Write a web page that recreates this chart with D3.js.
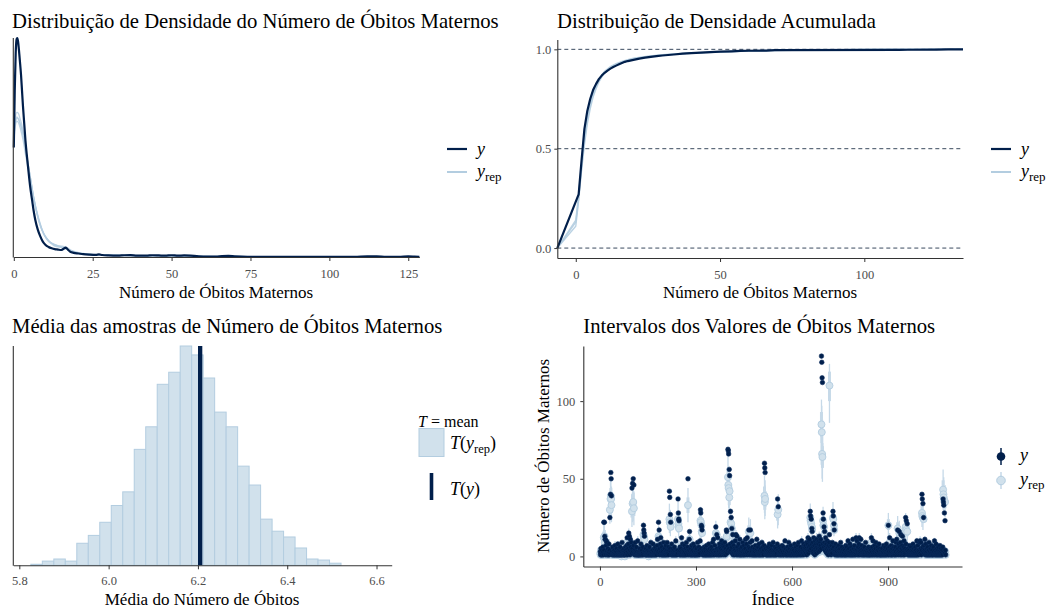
<!DOCTYPE html>
<html lang="pt">
<head>
<meta charset="utf-8">
<script src="https://cdn.jsdelivr.net/npm/d3@7"></script>
<style>
  body { margin: 0; background: #fff; }
  svg text { font-family: "Liberation Serif", "Times New Roman", serif; }
</style>
</head>
<body>
<svg id="chart" width="1053" height="612"></svg>
<script>
// ---------- Painel 1: densidade (altura relativa) de y e de réplicas y_rep ----------
const densObs = [[0,0.50],[0.3,0.76],[0.6,0.93],[0.9,0.995],[1.1,1.0],[1.35,0.985],[1.6,0.95],[1.9,0.90],[2.3,0.83],[2.6,0.76],[2.9,0.69],[3.3,0.61],[3.7,0.53],[4.2,0.455],[4.7,0.385],[5.2,0.32],[5.8,0.26],[6.3,0.21],[6.8,0.17],[7.6,0.125],[8.4,0.094],[9.2,0.07],[10,0.056],[11,0.046],[12,0.04],[13,0.036],[14,0.034],[15,0.032],[15.8,0.038],[16.5,0.043],[17.1,0.034],[17.9,0.024],[19,0.019],[20.5,0.016],[22,0.013],[24,0.011],[26,0.01],[27,0.012],[28,0.009],[30,0.007],[33,0.006],[35,0.008],[37,0.009],[39,0.006],[42,0.006],[44,0.008],[46,0.007],[48,0.006],[50,0.008],[52,0.006],[54,0.007],[56,0.006],[58,0.004],[61,0.002],[64,0.002],[66,0.004],[68,0.005],[70,0.003],[74,0.001],[90,0.0005],[108,0.001],[112,0.003],[115,0.003],[118,0.001],[122,0.001],[125,0.003],[127,0.002],[128.5,0.001]];
const densRepA = [[0,0.57],[0.5,0.62],[1.0,0.64],[1.5,0.63],[2.0,0.61],[2.5,0.59],[3,0.56],[3.5,0.52],[4,0.47],[4.7,0.41],[5.5,0.34],[6.3,0.27],[7,0.22],[8,0.16],[9,0.12],[10,0.09],[11,0.07],[12,0.06],[13,0.05],[14.5,0.045],[16,0.04],[17.5,0.03],[19,0.022],[21,0.015],[24,0.011],[28,0.009],[33,0.007],[38,0.006],[43,0.005],[48,0.005],[55,0.003],[65,0.002],[80,0.0015],[110,0.001],[128.5,0.0005]];
const densRepB = [[0,0.53],[0.5,0.60],[1.0,0.62],[1.6,0.61],[2.2,0.58],[3,0.53],[3.8,0.46],[4.6,0.40],[5.5,0.33],[6.5,0.25],[7.5,0.19],[8.5,0.14],[9.5,0.105],[11,0.075],[12.5,0.058],[14,0.05],[15.5,0.044],[17,0.035],[18.5,0.026],[20.5,0.018],[23,0.013],[27,0.01],[32,0.008],[37,0.006],[45,0.005],[52,0.004],[60,0.003],[75,0.002],[100,0.001],[128.5,0.0005]];
const densRepC = [[0,0.58],[0.5,0.64],[1.0,0.66],[1.5,0.655],[2.0,0.63],[2.6,0.60],[3.2,0.55],[3.9,0.48],[4.6,0.42],[5.4,0.35],[6.2,0.28],[7,0.225],[8,0.17],[9,0.125],[10,0.095],[11,0.075],[12.5,0.06],[14,0.052],[15,0.05],[16.5,0.045],[18,0.032],[20,0.022],[22,0.016],[25,0.012],[30,0.009],[36,0.007],[42,0.006],[50,0.005],[58,0.004],[70,0.002],[90,0.0015],[128.5,0.0005]];
const densRepD = [[0,0.55],[0.5,0.61],[1.0,0.635],[1.6,0.625],[2.2,0.60],[2.8,0.565],[3.4,0.52],[4.1,0.46],[4.8,0.40],[5.6,0.33],[6.4,0.265],[7.2,0.21],[8.2,0.155],[9.2,0.115],[10.2,0.088],[11.5,0.068],[13,0.055],[14.5,0.048],[16,0.042],[17.5,0.033],[19,0.024],[21,0.017],[24,0.012],[28,0.009],[34,0.007],[40,0.006],[47,0.005],[55,0.004],[65,0.002],[85,0.0015],[128.5,0.0005]];
const densTicks = [0, 25, 50, 75, 100, 125];

// ---------- Painel 2: distribuição acumulada ----------
const ecdfObs = [[1,0.27],[2,0.44],[3,0.60],[4,0.69],[5,0.75],[6,0.795],[7,0.825],[8,0.85],[9,0.868],[10,0.882],[11,0.893],[12,0.903],[13,0.911],[14,0.918],[15,0.925],[16,0.931],[17,0.937],[18,0.941],[20,0.947],[22,0.953],[24,0.958],[26,0.962],[28,0.966],[30,0.969],[34,0.974],[37,0.978],[40,0.981],[45,0.985],[50,0.988],[54,0.99],[57,0.992],[60,0.993],[66,0.994],[69,0.996],[112,0.997],[115,0.998],[125,0.999],[129,1]];
const ecdfRep1 = [[0,0.13],[1,0.25],[2,0.40],[3,0.54],[4,0.64],[5,0.715],[6,0.77],[7,0.81],[8,0.842],[9,0.866],[10,0.885],[12,0.91],[14,0.926],[16,0.937],[18,0.946],[20,0.953],[25,0.964],[30,0.972],[35,0.977],[40,0.981],[50,0.987],[60,0.992],[70,0.995],[85,0.997],[100,0.999],[122,1]];
const ecdfRep2 = [[0,0.11],[1,0.24],[2,0.39],[3,0.52],[4,0.625],[5,0.70],[6,0.76],[7,0.80],[8,0.835],[9,0.86],[10,0.88],[12,0.905],[14,0.922],[16,0.934],[18,0.943],[20,0.951],[25,0.962],[30,0.97],[35,0.976],[40,0.98],[50,0.986],[60,0.991],[75,0.995],[90,0.998],[110,0.999],[126,1]];
const ecdfRep3 = [[0,0.14],[1,0.27],[2,0.42],[3,0.555],[4,0.655],[5,0.725],[6,0.78],[7,0.82],[8,0.85],[9,0.872],[10,0.89],[12,0.913],[14,0.928],[16,0.939],[18,0.948],[20,0.955],[25,0.966],[30,0.973],[40,0.982],[50,0.988],[60,0.993],[80,0.997],[105,0.999],[118,1]];
const ecdfXTicks = [0, 50, 100];
const ecdfYTicks = [0, 0.5, 1];
const ecdfRefLines = [0, 0.5, 1];

// ---------- Painel 3: médias das réplicas ----------
const histStart = 5.8258;
const binWidth = 0.02573;
const histCounts = [2,0,8,12,8,42,57,82,114,140,221,264,345,368,418,401,357,292,264,189,153,88,65,54,33,12,10,4];
const statObs = 6.205;
const statTicks = [5.8, 6.0, 6.2, 6.4, 6.6];

// ---------- Painel 4: valores observados e réplicas por índice ----------
const obsY = [
  3,1,5,2,1,4,1,2,6,3, 1,22,4,22,13,11,2,1,7,10, 3,9,1,2,5,1,3,8,1,4, 25,2,40,54,50,39,3,1,6,2,
  1,3,2,1,4,1,7,2,3,1, 1,5,2,3,1,8,1,2,4,1, 3,1,6,2,1,3,1,2,9,1, 4,2,1,3,5,1,2,1,3,6,
  2,4,1,7,12,3,1,5,8,15, 2,13,4,1,11,6,3,9,2,44, 5,47,3,50,7,46,2,1,4,9, 3,1,2,6,1,3,1,10,2,1,
  1,3,2,1,5,1,2,8,1,3, 4,1,2,6,1,20,17,15,13,3, 1,2,5,1,3,1,7,2,1,4, 2,1,3,1,6,2,1,3,9,1,
  3,1,2,4,1,8,2,1,3,5, 1,2,6,1,3,2,1,4,7,11, 2,3,22,4,17,1,5,2,8,12, 3,1,6,2,1,4,3,1,9,2,
  1,5,2,1,3,7,1,2,4,9, 1,3,2,6,1,4,42,38,5,27, 22,3,1,8,2,1,3,5,1,2, 4,1,6,3,1,2,10,1,3,2,
  1,4,2,37,28,24,23,3,1,6, 2,1,5,3,12,1,2,8,1,4, 3,1,2,7,1,3,5,1,2,9, 4,1,3,6,50,2,1,4,11,16,
  3,1,2,5,1,7,3,1,2,4, 1,8,2,3,1,6,1,2,4,1, 3,5,1,2,9,1,3,2,6,1, 4,2,10,30,28,5,20,19,17,3,
  1,2,4,1,3,6,1,2,5,1, 3,1,7,2,1,4,2,1,3,8, 1,2,5,1,3,2,1,6,4,1, 2,9,3,1,11,2,4,1,7,3,
  2,19,3,1,14,5,2,12,1,4, 3,1,8,2,6,1,3,5,2,10, 1,4,7,2,8,3,1,6,2,9, 4,1,5,3,17,16,2,7,4,69,
  68,66,5,56,52,3,8,29,4,25, 6,18,2,9,14,1,3,7,2,5, 1,4,10,2,14,3,1,13,6,2, 1,4,8,3,1,2,11,1,5,3,
  1,2,6,1,3,9,2,1,4,7, 1,3,2,5,11,1,2,8,3,12, 1,4,2,6,17,3,1,5,9,17, 2,1,4,3,10,1,6,2,1,3,
  2,1,5,3,1,7,2,1,4,11, 1,3,2,6,1,2,8,1,3,4, 1,2,5,1,3,9,2,1,6,3, 1,4,7,60,57,54,2,5,1,3,
  1,4,2,1,6,3,1,2,8,1, 3,5,1,2,4,1,7,2,3,1, 9,2,1,4,3,1,6,2,1,5, 3,1,2,8,37,4,32,1,3,6,
  2,1,3,5,1,2,4,1,7,2, 3,1,6,1,2,4,3,10,1,2, 5,1,3,2,1,6,4,1,2,9, 3,1,5,2,1,7,3,1,4,2,
  1,3,2,5,1,4,1,8,2,3, 1,6,2,1,4,3,1,7,2,9, 1,3,5,2,1,4,6,1,3,10, 2,1,5,3,2,8,1,4,6,2,
  3,7,2,5,9,1,4,8,3,12, 2,6,10,4,11,7,29,26,5,24, 8,18,16,3,9,6,2,12,4,7, 1,10,5,3,8,2,11,6,4,9,
  5,8,3,10,13,6,4,9,7,11, 5,129,125,115,112,8,28,24,6,19, 9,16,4,7,12,3,8,5,2,10, 6,3,1,7,4,9,14,3,6,2,
  4,1,7,3,2,9,5,29,26,6, 21,17,3,1,4,8,2,1,5,3, 1,6,2,1,4,7,1,3,2,5, 1,9,2,1,3,6,1,4,2,1,
  3,2,5,1,4,1,2,7,1,3, 6,1,2,4,10,1,3,5,2,1, 8,3,1,2,6,1,4,2,1,11, 3,1,5,2,7,1,3,4,1,12,
  2,4,10,1,3,6,2,1,8,12, 3,1,5,2,11,4,1,7,2,3, 1,5,2,1,4,6,1,3,2,9, 1,4,2,1,3,5,1,2,6,1,
  3,1,2,5,1,4,2,12,1,3, 6,1,10,2,4,1,3,7,1,2, 5,9,1,3,2,1,6,4,1,2, 3,8,1,2,5,1,3,1,4,2,
  1,5,2,1,3,7,1,2,4,1, 6,3,1,2,8,1,4,2,5,1, 20,3,1,6,12,2,4,1,3,7, 1,2,5,1,10,3,2,6,1,4,
  2,1,6,3,9,1,11,4,2,17, 5,1,8,3,16,2,6,1,9,14, 3,5,1,7,13,2,4,1,6,10, 3,1,5,2,25,8,23,4,2,21,
  3,1,5,2,1,4,7,1,2,3, 1,6,2,1,4,3,1,8,2,1, 5,3,1,2,6,1,4,2,1,10, 3,1,7,2,4,1,3,9,2,10,
  2,5,9,1,4,40,37,6,34,3, 25,7,2,4,11,1,3,8,2,1, 5,3,1,6,2,1,4,9,1,2, 3,1,5,2,7,1,3,4,1,2,
  1,6,2,3,10,1,4,2,1,8, 3,1,5,2,1,4,6,1,3,2, 1,7,2,1,5,3,1,2,4,1, 6,37,35,33,3,28,2,23,4,1
];
const repMed = [
  2,1,4,2,1,3,1,2,4,3, 1,12,3,13,9,8,2,1,5,7, 2,6,1,2,4,1,2,5,1,3, 30,2,37,39,37,33,2,1,4,2,
  1,2,2,1,3,1,5,2,3,1, 1,4,2,2,1,5,1,2,3,1, 2,1,4,2,1,3,0,2,6,1, 3,2,1,3,4,1,2,0,3,4,
  2,3,1,5,9,3,1,4,6,11, 2,10,3,1,8,5,3,7,2,29, 4,34,3,35,5,31,2,1,3,6, 2,1,2,4,1,3,1,7,2,1,
  1,2,2,1,4,1,2,5,1,3, 3,1,2,4,1,14,13,12,11,3, 1,2,4,1,2,1,5,2,1,3, 2,0,3,1,4,2,1,3,6,1,
  2,1,2,3,1,5,2,1,3,4, 1,2,4,1,3,2,1,3,5,8, 2,3,13,3,12,1,4,2,5,9, 3,1,4,2,1,3,2,1,6,2,
  1,4,2,1,3,5,1,2,3,6, 1,2,2,4,1,3,24,22,4,21, 19,3,1,5,2,1,3,4,1,2, 3,1,4,3,1,2,7,1,2,2,
  1,3,2,24,21,19,18,3,1,4, 2,1,4,2,8,1,2,5,1,3, 3,1,2,5,1,3,4,1,2,6, 3,1,2,4,33,2,1,3,8,11,
  2,1,2,4,1,5,2,1,2,3, 1,5,2,3,1,4,1,2,3,1, 2,4,1,2,6,1,3,2,4,1, 3,2,7,23,22,4,20,16,15,3,
  1,2,3,1,3,4,1,2,4,1, 2,1,5,2,1,3,2,1,3,5, 1,2,4,1,2,2,1,4,3,1, 2,6,3,1,8,2,3,1,5,2,
  2,15,3,1,14,4,2,10,1,3, 2,1,5,2,4,1,3,4,2,7, 1,3,5,2,6,3,1,4,2,6, 3,1,4,2,12,13,2,5,3,51,
  46,44,4,38,42,3,6,22,3,21, 5,18,2,6,13,1,3,5,2,4, 1,3,7,2,11,3,1,10,4,2, 1,3,6,3,1,2,8,1,4,3,
  1,2,4,1,3,6,2,1,3,5, 1,3,2,4,9,1,2,6,3,10, 1,3,2,4,16,3,1,4,7,15, 2,1,3,2,8,1,4,2,1,3,
  2,1,4,3,1,5,2,1,3,8, 1,3,2,4,1,2,5,1,3,3, 1,2,4,1,3,6,2,1,4,3, 1,3,5,39,35,37,2,4,1,3,
  1,3,2,1,4,3,1,2,6,1, 3,4,1,2,3,1,5,2,3,1, 6,2,1,3,3,1,4,2,1,4, 3,1,2,5,27,3,30,1,3,4,
  2,1,3,4,1,2,3,1,5,2, 3,1,4,1,2,3,3,7,1,2, 4,1,3,2,1,4,3,1,2,6, 3,1,4,2,1,5,3,1,3,2,
  1,3,2,4,1,3,1,6,2,3, 1,4,2,1,3,3,1,5,2,6, 1,3,4,2,1,3,4,1,3,7, 2,1,4,3,2,6,1,3,4,2,
  3,5,2,4,7,1,3,6,3,9, 2,5,8,3,9,5,25,23,4,21, 6,19,17,3,7,5,2,9,3,5, 1,8,4,3,6,2,9,5,3,7,
  4,6,3,8,10,5,3,7,5,9, 4,85,80,66,64,6,23,20,5,19, 7,15,3,5,9,3,6,4,2,8, 5,3,1,5,3,7,110,3,5,2,
  3,1,5,3,2,6,4,25,24,5, 20,17,3,1,3,5,2,1,4,3, 1,4,2,1,3,5,1,3,2,4, 1,6,2,1,3,4,1,3,2,1,
  3,2,4,1,3,1,2,5,1,3, 4,1,2,3,7,1,3,4,2,1, 5,3,1,2,4,1,3,2,1,8, 3,1,4,2,5,1,3,3,1,9,
  2,3,7,1,3,4,2,1,5,9, 3,1,4,2,8,3,1,5,2,3, 1,4,2,1,3,4,1,3,2,6, 1,3,2,1,3,4,1,2,4,1,
  3,1,2,4,1,3,2,9,1,3, 4,1,7,2,3,1,3,5,1,2, 4,6,1,3,2,1,4,3,1,2, 3,5,1,2,4,1,3,1,3,2,
  1,4,2,1,3,5,1,2,3,1, 4,3,1,2,5,1,3,2,4,1, 20,3,1,4,9,2,3,1,3,5, 1,2,4,1,7,3,2,4,1,3,
  2,1,4,3,6,1,9,3,2,18, 4,1,6,3,15,2,4,1,6,13, 3,4,1,5,11,2,3,1,4,8, 3,1,4,2,19,6,17,3,2,16,
  3,1,4,2,1,3,5,1,2,3, 1,4,2,1,3,3,1,5,2,1, 4,3,1,2,4,1,3,2,1,7, 3,1,5,2,3,1,3,6,2,8,
  2,4,7,1,3,28,26,5,25,3, 24,5,2,3,8,1,3,5,2,1, 4,3,1,4,2,1,3,6,1,2, 3,1,4,2,5,1,3,3,1,2,
  1,4,2,3,7,1,3,2,1,6, 3,1,4,2,1,3,4,1,3,2, 1,5,2,1,4,3,1,2,3,1, 4,43,40,38,3,36,2,35,3,1
];
// [índice, limite inferior 90%, inferior 50%, superior 50%, superior 90%]
const repIntervals = [
  [9,1,2,6,9],[12,5,9,16,21],[14,6,10,17,22],[29,2,4,8,11],[31,21,26,35,41],[33,24,31,42,49],[34,26,34,44,51],[36,22,28,38,45],
  [47,2,3,7,10],[56,2,3,7,10],[85,4,6,12,15],[90,5,8,14,18],[98,3,5,10,13],[100,19,25,34,40],[102,22,29,40,46],[104,23,30,41,48],[106,20,26,36,42],
  [118,3,5,10,13],[136,7,11,17,22],[159,2,4,8,11],[183,6,10,16,20],[189,2,3,7,10],[206,2,3,7,10],[217,15,20,28,34],[220,13,18,25,30],
  [237,3,5,10,13],[244,15,20,29,35],[246,12,16,23,28],[255,4,6,11,14],[270,2,4,8,11],[275,22,28,38,44],[280,5,8,14,17],
  [305,2,4,8,11],[313,3,5,10,13],[314,14,19,27,32],[317,12,17,24,29],[352,2,4,8,11],[355,4,6,11,14],[362,8,12,18,23],[365,7,11,17,21],
  [380,3,5,10,13],[390,2,4,8,11],[400,37,45,57,66],[402,31,39,50,58],[404,27,33,44,51],[408,14,18,26,31],[412,10,14,22,27],[425,5,8,14,17],
  [437,4,6,11,14],[446,2,4,8,11],[460,4,7,13,16],[465,9,13,20,25],[470,8,12,19,24],[475,3,5,10,13],[490,3,5,10,13],[506,2,4,8,11],
  [514,28,34,45,52],[515,24,30,40,46],[516,26,32,42,49],[541,2,4,8,11],[555,18,23,31,37],[557,20,26,34,40],[578,3,5,9,12],[590,2,4,8,11],
  [630,3,5,10,13],[645,3,5,9,12],[650,3,6,12,15],[653,3,6,11,14],[657,16,21,29,34],[660,13,18,25,30],[662,12,16,23,27],[672,3,5,10,13],[677,3,6,12,15],
  [685,4,7,13,16],[690,3,6,12,15],[692,66,77,93,101],[693,62,73,88,97],[694,50,59,73,82],[695,48,57,71,79],[697,15,20,27,32],[700,12,16,23,27],[705,3,6,11,15],
  [717,86,100,119,124],[728,17,22,30,35],[731,13,17,24,29],[775,3,5,9,12],[790,3,5,10,13],[800,3,6,12,15],[810,3,6,12,15],[848,3,6,12,15],[853,2,4,9,12],
  [901,12,17,24,28],[905,3,6,12,15],[915,2,4,9,12],[927,3,6,12,15],[930,10,15,22,26],[935,8,12,19,23],[945,4,7,14,18],[950,2,5,10,13],[955,12,16,23,28],[960,9,13,20,24],
  [990,2,4,9,12],[1000,3,5,10,13],[1003,2,4,9,12],[1006,19,24,33,38],[1009,17,22,29,35],[1015,3,5,10,13],[1028,2,4,8,11],[1045,2,4,9,12],
  [1072,30,38,49,56],[1074,27,34,44,51],[1078,25,31,40,46]
];
const idxTicks = [0, 300, 600, 900];
const countTicks = [0, 50, 100];

// ---------- estilo ----------
const DARK = "#011f4b", LIGHT = "#d1e1ec", LIGHT_HI = "#b3cde0", INTERVAL = "#c6d9e8";
const AXIS = "#333333", TICK_TXT = "#4d4d4d";
const TITLE_SIZE = 20.7;
const svg = d3.select("#chart");

function styleAxis(g, labelOffset, horizontal) {
  g.attr("font-family", null);
  g.selectAll(".domain").attr("stroke", AXIS).attr("stroke-width", 1.1);
  g.selectAll(".tick line").attr("stroke", AXIS).attr("stroke-width", 1);
  const t = g.selectAll(".tick text").attr("fill", TICK_TXT).style("font-size", "12.5px");
  if (horizontal) t.attr("y", labelOffset).attr("dy", 0);
}
function vLine(x, y0, y1) {
  svg.append("line").attr("x1", x).attr("x2", x).attr("y1", y0).attr("y2", y1)
    .attr("stroke", AXIS).attr("stroke-width", 1.1);
}
function text(x, y, str, size, anchor) {
  return svg.append("text").attr("x", x).attr("y", y).text(str)
    .style("font-size", size + "px").attr("text-anchor", anchor || "start").attr("fill", "#000");
}
// rótulo "y" / "y_rep" em itálico com subscrito
function yLabel(x, y, rep) {
  const t = svg.append("text").attr("x", x).attr("y", y).style("font-size", "18px").attr("fill", "#000");
  t.append("tspan").text("y").style("font-style", "italic");
  if (rep) t.append("tspan").text("rep").style("font-size", "13px").attr("dy", 4);
  return t;
}

// ===================== Painel 1 =====================
const x1 = d3.scaleLinear().domain([0, 128.5]).range([13.8, 419.3]);
const y1 = d3.scaleLinear().domain([0, 1]).range([257, 38]);
const line1 = d3.line().x(d => x1(d[0])).y(d => y1(d[1])).curve(d3.curveMonotoneX);
text(12, 28, "Distribuição de Densidade do Número de Óbitos Maternos", TITLE_SIZE);
[densRepA, densRepB, densRepC, densRepD].forEach(c =>
  svg.append("path").attr("d", line1(c)).attr("fill", "none")
    .attr("stroke", LIGHT_HI).attr("stroke-width", 1.3).attr("opacity", 0.85));
svg.append("path").attr("d", line1(densObs)).attr("fill", "none")
  .attr("stroke", DARK).attr("stroke-width", 2.2).attr("stroke-linejoin", "round");
svg.append("g").attr("transform", "translate(0,257)")
  .call(d3.axisBottom(x1).tickValues(densTicks).tickFormat(d3.format("d")).tickSize(4).tickSizeOuter(0))
  .call(g => styleAxis(g, 21, true));
vLine(13.3, 38, 257.5);
text(216, 298, "Número de Óbitos Maternos", 17, "middle");
// legenda
svg.append("line").attr("x1", 447).attr("x2", 467).attr("y1", 149).attr("y2", 149).attr("stroke", DARK).attr("stroke-width", 2.2);
yLabel(477, 155, false);
svg.append("line").attr("x1", 447).attr("x2", 467).attr("y1", 172).attr("y2", 172).attr("stroke", LIGHT_HI).attr("stroke-width", 2);
yLabel(477, 177, true);

// ===================== Painel 2 =====================
const x2 = d3.scaleLinear().domain([-6.4, 134.2]).range([557.3, 963]);
const y2 = d3.scaleLinear().domain([-0.05, 1.05]).range([258, 39.4]);
const line2 = d3.line().x(d => x2(d[0])).y(d => y2(d[1]));
const pad = c => [[x2.domain()[0], 0], ...c, [x2.domain()[1], 1]];
text(557, 28, "Distribuição de Densidade Acumulada", TITLE_SIZE);
ecdfRefLines.forEach(v =>
  svg.append("line").attr("x1", x2.range()[0]).attr("x2", x2.range()[1]).attr("y1", y2(v)).attr("y2", y2(v))
    .attr("stroke", "#3a4a5e").attr("stroke-width", 1).attr("stroke-dasharray", "4,3"));
[ecdfRep1, ecdfRep2, ecdfRep3].forEach(c =>
  svg.append("path").attr("d", line2(pad(c))).attr("fill", "none")
    .attr("stroke", LIGHT_HI).attr("stroke-width", 1.4).attr("opacity", 0.9));
svg.append("path").attr("d", line2(pad(ecdfObs))).attr("fill", "none")
  .attr("stroke", DARK).attr("stroke-width", 2.2).attr("stroke-linejoin", "round");
svg.append("g").attr("transform", "translate(0,258)")
  .call(d3.axisBottom(x2).tickValues(ecdfXTicks).tickFormat(d3.format("d")).tickSize(4).tickSizeOuter(0))
  .call(g => styleAxis(g, 21, true));
svg.append("g").attr("transform", "translate(557.3,0)")
  .call(d3.axisLeft(y2).tickValues(ecdfYTicks).tickFormat(d3.format(".1f")).tickSize(3).tickPadding(3).tickSizeOuter(0))
  .call(g => styleAxis(g, 0, false));
text(760, 298, "Número de Óbitos Maternos", 17, "middle");
svg.append("line").attr("x1", 991).attr("x2", 1011).attr("y1", 149).attr("y2", 149).attr("stroke", DARK).attr("stroke-width", 2.2);
yLabel(1021, 155, false);
svg.append("line").attr("x1", 991).attr("x2", 1011).attr("y1", 172).attr("y2", 172).attr("stroke", LIGHT_HI).attr("stroke-width", 2);
yLabel(1021, 177, true);

// ===================== Painel 3 =====================
const x3 = d3.scaleLinear().domain([5.7865, 6.634]).range([13.3, 391.7]);
const y3 = d3.scaleLinear().domain([0, d3.max(histCounts)]).range([565.3, 346]);
text(12, 333, "Média das amostras de Número de Óbitos Maternos", TITLE_SIZE);
svg.append("g").selectAll("rect").data(histCounts).join("rect")
  .filter(d => d > 0)
  .attr("x", (d, i) => x3(histStart + i * binWidth))
  .attr("width", (d, i) => x3(histStart + (i + 1) * binWidth) - x3(histStart + i * binWidth))
  .attr("y", d => y3(d))
  .attr("height", d => y3(0) - y3(d))
  .attr("fill", LIGHT).attr("stroke", LIGHT_HI).attr("stroke-width", 1);
svg.append("line").attr("x1", x3(statObs)).attr("x2", x3(statObs)).attr("y1", y3(0)).attr("y2", y3.range()[1])
  .attr("stroke", DARK).attr("stroke-width", 4.3);
svg.append("g").attr("transform", "translate(0,565.3)")
  .call(d3.axisBottom(x3).tickValues(statTicks).tickFormat(d3.format(".1f")).tickSize(4).tickSizeOuter(0))
  .call(g => styleAxis(g, 19.7, true));
vLine(13.3, 346, 565.8);
text(202, 605, "Média do Número de Óbitos", 17, "middle");
// legenda
{
  const t = svg.append("text").attr("x", 418).attr("y", 427).style("font-size", "16px");
  t.append("tspan").text("T").style("font-style", "italic");
  t.append("tspan").text(" = mean");
  svg.append("rect").attr("x", 419).attr("y", 428.5).attr("width", 25).attr("height", 28)
    .attr("fill", LIGHT).attr("stroke", LIGHT_HI).attr("stroke-width", 1);
  const a = svg.append("text").attr("x", 450).attr("y", 449).style("font-size", "18px");
  a.append("tspan").text("T").style("font-style", "italic");
  a.append("tspan").text("(");
  a.append("tspan").text("y").style("font-style", "italic");
  a.append("tspan").text("rep").style("font-size", "12.5px").attr("dy", 4);
  a.append("tspan").text(")").attr("dy", -4);
  svg.append("line").attr("x1", 431.5).attr("x2", 431.5).attr("y1", 473).attr("y2", 500)
    .attr("stroke", DARK).attr("stroke-width", 3.6);
  const b = svg.append("text").attr("x", 450).attr("y", 495).style("font-size", "18px");
  b.append("tspan").text("T").style("font-style", "italic");
  b.append("tspan").text("(");
  b.append("tspan").text("y").style("font-style", "italic");
  b.append("tspan").text(")");
}

// ===================== Painel 4 =====================
const x4 = d3.scaleLinear().domain([-52, 1131]).range([583.3, 962]);
const y4 = d3.scaleLinear().domain([-6.5, 135.5]).range([566.5, 346]);
text(583.3, 333, "Intervalos dos Valores de Óbitos Maternos", TITLE_SIZE);
const gInt = svg.append("g");
gInt.selectAll("line.o").data(repIntervals).join("line").attr("class", "o")
  .attr("x1", d => x4(d[0])).attr("x2", d => x4(d[0]))
  .attr("y1", d => y4(d[1])).attr("y2", d => y4(d[4]))
  .attr("stroke", INTERVAL).attr("stroke-width", 1.3);
gInt.selectAll("line.i").data(repIntervals).join("line").attr("class", "i")
  .attr("x1", d => x4(d[0])).attr("x2", d => x4(d[0]))
  .attr("y1", d => y4(d[2])).attr("y2", d => y4(d[3]))
  .attr("stroke", INTERVAL).attr("stroke-width", 3);
svg.append("g").selectAll("circle").data(repMed).join("circle")
  .attr("cx", (d, i) => x4(i + 1)).attr("cy", d => y4(d)).attr("r", 3.5)
  .attr("fill", LIGHT).attr("stroke", LIGHT_HI).attr("stroke-width", 0.9);
svg.append("g").selectAll("circle").data(obsY).join("circle")
  .attr("cx", (d, i) => x4(i + 1)).attr("cy", d => y4(d)).attr("r", 2.3)
  .attr("fill", DARK).attr("stroke", "#0b2d5e").attr("stroke-width", 0.6);
svg.append("g").attr("transform", "translate(0,566.5)")
  .call(d3.axisBottom(x4).tickValues(idxTicks).tickFormat(d3.format("d")).tickSize(4).tickSizeOuter(0))
  .call(g => styleAxis(g, 19, true));
svg.append("g").attr("transform", "translate(583.3,0)")
  .call(d3.axisLeft(y4).tickValues(countTicks).tickFormat(d3.format("d")).tickSize(3).tickPadding(5).tickSizeOuter(0))
  .call(g => styleAxis(g, 0, false));
text(773, 605, "Índice", 17, "middle");
svg.append("text").attr("transform", "translate(549,456) rotate(-90)")
  .attr("text-anchor", "middle").style("font-size", "17px").text("Número de Óbitos Maternos");
// legenda
svg.append("line").attr("x1", 1001).attr("x2", 1001).attr("y1", 448).attr("y2", 465).attr("stroke", DARK).attr("stroke-width", 1.5);
svg.append("circle").attr("cx", 1001).attr("cy", 456.5).attr("r", 4.3).attr("fill", DARK);
yLabel(1020, 461, false);
svg.append("line").attr("x1", 1001).attr("x2", 1001).attr("y1", 472).attr("y2", 489).attr("stroke", INTERVAL).attr("stroke-width", 1.5);
svg.append("circle").attr("cx", 1001).attr("cy", 480.5).attr("r", 4.3).attr("fill", LIGHT).attr("stroke", LIGHT_HI);
yLabel(1020, 485, true);
</script>
</body>
</html>
